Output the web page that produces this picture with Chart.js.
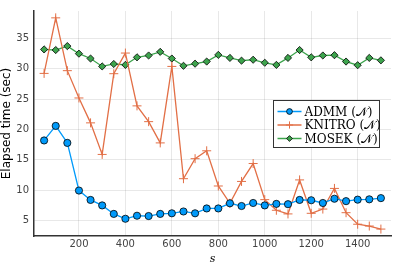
<!DOCTYPE html>
<html>
<head>
<meta charset="utf-8">
<script src="https://cdn.jsdelivr.net/npm/chart.js@4"></script>
<style>
  html, body { margin: 0; padding: 0; background: #fff; }
  #wrap { width: 399px; height: 266px; }
</style>
</head>
<body>
<div id="wrap"><canvas id="chart"></canvas></div>
<script>
// problem size s
const sizes = [50, 100, 150, 200, 250, 300, 350, 400, 450, 500, 550, 600, 650, 700, 750,
  800, 850, 900, 950, 1000, 1050, 1100, 1150, 1200, 1250, 1300, 1350, 1400, 1450, 1500];

const admm = [18.2, 20.6, 17.8, 9.95, 8.4, 7.5, 6.1, 5.3, 5.8, 5.75, 6.1, 6.2, 6.5, 6.2, 7.0,
  7.0, 7.85, 7.4, 7.9, 7.5, 7.75, 7.7, 8.4, 8.35, 7.9, 8.6, 8.2, 8.45, 8.5, 8.7];
const knitro = [29.25, 38.4, 29.7, 25.2, 21.1, 15.9, 29.2, 32.6, 23.9, 21.3, 17.8, 30.4, 11.9, 15.2, 16.5,
  10.7, 7.85, 11.45, 14.4, 8.45, 6.7, 6.1, 11.7, 6.2, 6.9, 10.3, 6.3, 4.4, 4.1, 3.6];
const mosek = [33.2, 33.1, 33.75, 32.5, 31.7, 30.4, 30.8, 30.65, 31.9, 32.2, 32.8, 31.7, 30.5, 30.85, 31.2,
  32.3, 31.8, 31.35, 31.5, 31.0, 30.65, 31.8, 33.1, 31.9, 32.2, 32.25, 31.2, 30.6, 31.8, 31.4];

const xTicks = [200, 400, 600, 800, 1000, 1200, 1400];
const yTicks = [5, 10, 15, 20, 25, 30, 35];
const seriesNames = ['ADMM (𝒩)', 'KNITRO (𝒩)', 'MOSEK (𝒩)'];

const toPoints = (ys) => ys.map((y, i) => ({ x: sizes[i], y }));

// legend drawn inside the plot area, like Plots.jl
const innerLegend = {
  id: 'innerLegend',
  afterDraw(chart) {
    const { ctx } = chart;
    const box = { x: 273.5, y: 100.5, w: 106, h: 47 };
    ctx.save();
    ctx.fillStyle = '#fff';
    ctx.fillRect(box.x, box.y, box.w, box.h);
    ctx.strokeStyle = '#333';
    ctx.lineWidth = 1;
    ctx.strokeRect(box.x, box.y, box.w, box.h);
    ctx.font = '12px "DejaVu Serif", serif';
    ctx.textBaseline = 'middle';
    chart.data.datasets.forEach((ds, i) => {
      const cy = box.y + 11 + i * 13.5;
      ctx.strokeStyle = ds.borderColor;
      ctx.lineWidth = 1.5;
      ctx.beginPath();
      ctx.moveTo(box.x + 4, cy);
      ctx.lineTo(box.x + 28, cy);
      ctx.stroke();
      ctx.fillStyle = ds.pointBackgroundColor;
      ctx.strokeStyle = ds.pointBorderColor;
      ctx.lineWidth = ds.pointBorderWidth;
      Chart.helpers.drawPoint(ctx, {
        pointStyle: ds.pointStyle,
        radius: ds.pointRadius * 0.8,
        borderWidth: ds.pointBorderWidth,
      }, box.x + 16, cy);
      ctx.fillStyle = '#000';
      ctx.fillText(ds.label, box.x + 31, cy + 1);
    });
    ctx.restore();
  },
};

function dataset(label, ys, color, style, extra) {
  return Object.assign({
    label,
    data: toPoints(ys),
    borderColor: color,
    backgroundColor: color,
    borderWidth: 1.3,
    pointStyle: style,
    pointRadius: 3.6,
    pointBorderColor: '#000',
    pointBorderWidth: 0.8,
    pointBackgroundColor: color,
    tension: 0,
  }, extra || {});
}

new Chart(document.getElementById('chart'), {
  type: 'line',
  data: {
    datasets: [
      dataset(seriesNames[0], admm, '#009AFA', 'circle'),
      dataset(seriesNames[1], knitro, '#E26F46', 'cross', { pointRadius: 4.5, pointBorderColor: '#E26F46', pointBorderWidth: 1 }),
      dataset(seriesNames[2], mosek, '#3DA44D', 'rectRot', { pointRadius: 3.6 }),
    ],
  },
  options: {
    responsive: true,
    maintainAspectRatio: false,
    animation: false,
    layout: { padding: { top: 7, right: 8, left: 0, bottom: 0 } },
    plugins: { legend: { display: false }, tooltip: { enabled: false } },
    scales: {
      x: {
        type: 'linear',
        min: 6.5,
        max: 1543.5,
        afterBuildTicks: (scale) => { scale.ticks = xTicks.map((v) => ({ value: v })); },
        afterFit: (scale) => { scale.height = 30; },
        ticks: { color: '#444', font: { size: 10, family: 'DejaVu Sans' }, padding: 2, maxRotation: 0, callback: (v) => String(v) },
        grid: { color: 'rgba(0,0,0,0.09)', drawTicks: false },
        border: { display: true, color: '#333', width: 1.5 },
        title: { display: true, text: 's', color: '#000', padding: 0, font: { size: 11, family: 'DejaVu Serif', style: 'italic' } },
      },
      y: {
        type: 'linear',
        min: 2.46,
        max: 39.53,
        afterBuildTicks: (scale) => { scale.ticks = yTicks.map((v) => ({ value: v })); },
        afterFit: (scale) => { scale.width = 34; },
        ticks: { color: '#444', font: { size: 10, family: 'DejaVu Sans' }, padding: 5, callback: (v) => String(v) },
        grid: { color: 'rgba(0,0,0,0.09)', drawTicks: false },
        border: { display: true, color: '#333', width: 1.5 },
        title: { display: true, text: 'Elapsed time (sec)', color: '#000', padding: 0, font: { size: 12, family: 'DejaVu Sans' } },
      },
    },
  },
  plugins: [innerLegend],
});
</script>
</body>
</html>
